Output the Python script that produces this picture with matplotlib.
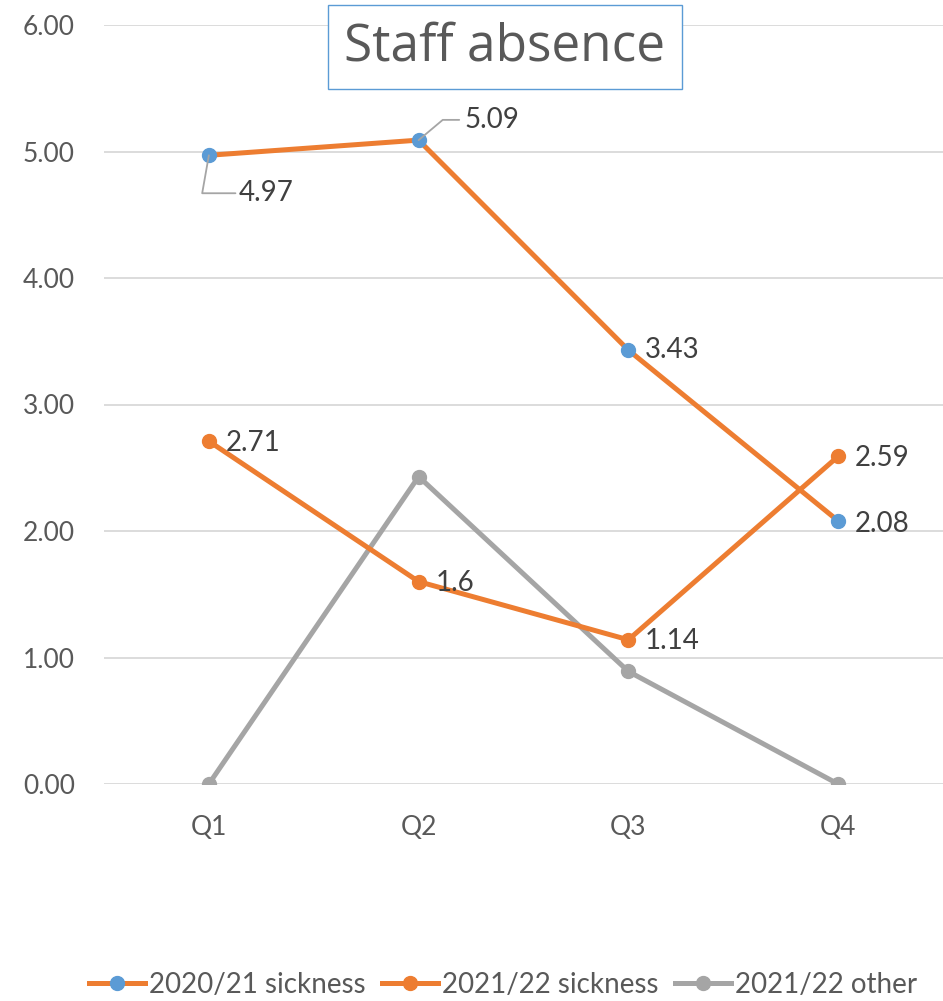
from matplotlib import pyplot as plt

quarters = ['Q1', 'Q2', 'Q3', 'Q4']
sick_2021 = [4.97, 5.09, 3.43, 2.08]
sick_2122 = [2.71, 1.6, 1.14, 2.59]
other_2122 = [0, 2.43, 0.89, 0]

orange = '#ED7D31'
blue = '#5B9BD5'
grey = '#A5A5A5'
text_col = '#595959'

plt.rcParams['font.family'] = ['Lato', 'DejaVu Sans']

fig = plt.figure(figsize=(9.43, 10.01), dpi=100)
ax = fig.add_axes([104 / 943, 1 - 784 / 1001, 1 - 104 / 943, (784 - 25) / 1001])

x = range(len(quarters))
ax.plot(x, sick_2021, color=orange, lw=3.6, marker='o', ms=10,
        mfc=blue, mec=blue, label='2020/21 sickness', zorder=3)
ax.plot(x, sick_2122, color=orange, lw=3.6, marker='o', ms=10,
        mfc=orange, mec=orange, label='2021/22 sickness', zorder=3)
ax.plot(x, other_2122, color=grey, lw=3.6, marker='o', ms=10,
        mfc=grey, mec=grey, label='2021/22 other', zorder=2)

ax.set_xlim(-0.5, 3.5)
ax.set_ylim(0, 6)
ax.set_xticks(list(x))
ax.set_xticklabels(quarters)
ax.set_yticks([0, 1, 2, 3, 4, 5, 6])
ax.set_yticklabels(['%.2f' % v for v in range(7)])
ax.tick_params(length=0, labelsize=19, colors=text_col)
ax.tick_params(axis='y', pad=21)
ax.tick_params(axis='x', pad=22)
ax.grid(axis='y', color='#D9D9D9', lw=1.3)
ax.set_axisbelow(True)
for s in ax.spines.values():
    s.set_visible(False)

lbl = dict(fontsize=20, color='#404040', va='center')

# labels with leader lines on the first series
ax.annotate('%.2f' % sick_2021[0], xy=(0, sick_2021[0]), xytext=(0.14, 4.67),
            ha='left', arrowprops=dict(arrowstyle='-', color=grey, lw=1.3,
                                       connectionstyle='angle,angleA=0,angleB=80,rad=0',
                                       shrinkA=0, shrinkB=0), **lbl)
ax.annotate('%.2f' % sick_2021[1], xy=(1, sick_2021[1]), xytext=(1.22, 5.25),
            ha='left', arrowprops=dict(arrowstyle='-', color=grey, lw=1.3,
                                       connectionstyle='angle,angleA=0,angleB=40,rad=0',
                                       shrinkA=2, shrinkB=0), **lbl)
ax.annotate('%.2f' % sick_2021[2], xy=(2, sick_2021[2]), xytext=(12, 0),
            textcoords='offset points', ha='left', **lbl)
ax.annotate('%.2f' % sick_2021[3], xy=(3, sick_2021[3]), xytext=(12, -2),
            textcoords='offset points', ha='left', **lbl)

for i, v in enumerate(sick_2122):
    ax.annotate('%g' % v, xy=(i, v), xytext=(12, -1),
                textcoords='offset points', ha='left', **lbl)

fig.text(505 / 943, 1 - 47 / 1001, 'Staff absence', fontsize=37, color=text_col,
         ha='center', va='center', family=['Open Sans', 'DejaVu Sans'],
         bbox=dict(boxstyle='square,pad=0.32', fc='white', ec=blue, lw=1))

leg = fig.legend(loc='center', bbox_to_anchor=(503 / 943, 1 - 985 / 1001), ncol=3,
                 frameon=False, fontsize=20, handlelength=2.0, columnspacing=0.6,
                 handletextpad=0.15, borderaxespad=0)
for t in leg.get_texts():
    t.set_color(text_col)

plt.savefig('out.png', dpi=100)
